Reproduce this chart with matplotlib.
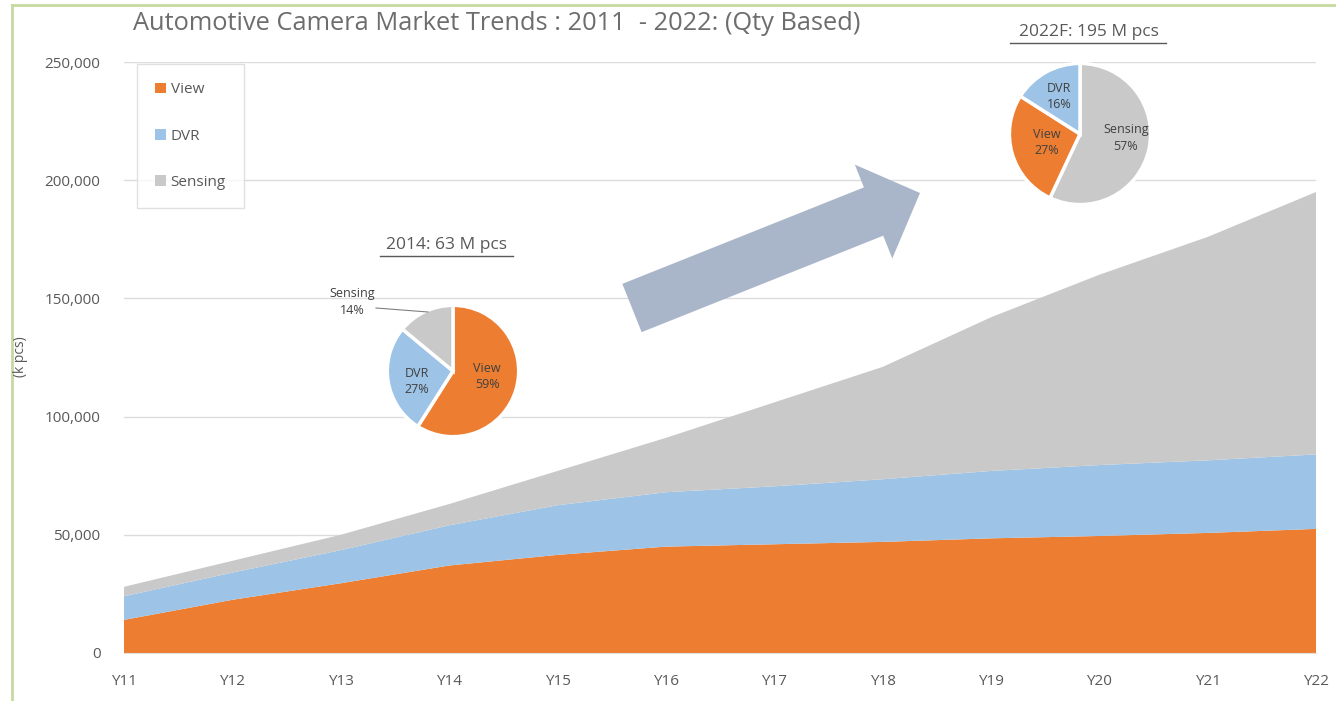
import numpy as np
import matplotlib.pyplot as plt
from matplotlib.patches import FancyArrow
from matplotlib.lines import Line2D

# Data (k pcs)
years = ['Y11', 'Y12', 'Y13', 'Y14', 'Y15', 'Y16', 'Y17', 'Y18', 'Y19', 'Y20', 'Y21', 'Y22']
view = [14000, 22500, 29500, 37000, 41500, 45000, 46000, 47000, 48500, 49500, 50800, 52500]
dvr = [10000, 11500, 14000, 17000, 21000, 23000, 24500, 26500, 28500, 30000, 30700, 31500]
sensing = [4000, 5000, 6500, 9000, 14500, 23000, 35500, 47500, 65000, 80500, 94500, 111000]

pie_labels = ['View', 'DVR', 'Sensing']
pie_2014 = [59, 27, 14]
pie_2022 = [27, 16, 57]

c_view = '#ED7D31'
c_dvr = '#9DC3E6'
c_sens = '#C9C9C9'
txt = '#595959'
W, H = 1336, 701

plt.rcParams['font.family'] = ['Open Sans', 'DejaVu Sans']

fig = plt.figure(figsize=(W / 100, H / 100), dpi=100)
ax = fig.add_axes([124 / W, 1 - 653 / H, (1316 - 124) / W, (653 - 62) / H])

x = np.arange(len(years))
ax.stackplot(x, view, dvr, sensing, colors=[c_view, c_dvr, c_sens],
             labels=['View', 'DVR', 'Sensing'], linewidth=0, zorder=2)
ax.set_xlim(0, len(years) - 1)
ax.set_ylim(0, 250000)
ax.set_yticks(np.arange(0, 250001, 50000))
ax.set_yticklabels([f'{v:,}' for v in range(0, 250001, 50000)])
ax.set_xticks(x)
ax.set_xticklabels(years)
ax.tick_params(axis='both', colors=txt, labelsize=11, length=0)
ax.tick_params(axis='y', pad=17)
ax.tick_params(axis='x', pad=15)
ax.grid(axis='y', color='#dcdcdc', linewidth=1, zorder=0)
for s in ['top', 'right', 'left']:
    ax.spines[s].set_visible(False)
ax.spines['bottom'].set_color('#e0e0e0')
fig.text(20 / W, 1 - 357 / H, '(k pcs)', rotation=90, color=txt, fontsize=10,
         ha='center', va='center')

leg = ax.legend(loc='upper left', bbox_to_anchor=(13 / 1192, 1 - 2 / 591), frameon=True,
                fontsize=11, handlelength=0.7, handleheight=0.7, labelspacing=2.05,
                borderpad=1.2, handletextpad=0.3, fancybox=False, labelcolor=txt,
                borderaxespad=0)
leg.get_frame().set_edgecolor('#d9d9d9')
leg.get_frame().set_linewidth(1)

fig.text(133 / W, 1 - 24 / H, 'Automotive Camera Market Trends : 2011  - 2022: (Qty Based)',
         fontsize=18.3, color='#6d6d6d', ha='left', va='center')

# Border
fig.add_artist(Line2D([12 / W, 12 / W], [0, 1 - 5 / H], color='#c6d9a0', linewidth=2))
fig.add_artist(Line2D([12 / W, 1], [1 - 5 / H, 1 - 5 / H], color='#c6d9a0', linewidth=2))

# Big arrow (inch units so the shape is not distorted)
fig.add_artist(FancyArrow(6.32, (H - 308) / 100, 2.88, 1.15, width=0.52,
                          head_width=1.01, head_length=0.5, length_includes_head=True,
                          transform=fig.dpi_scale_trans, color='#A9B5C8', linewidth=0))


def make_pie(cx, cy, r, vals, colors, start):
    pa = fig.add_axes([(cx - r) / W, 1 - (cy + r) / H, 2 * r / W, 2 * r / H])
    pa.pie(vals, colors=colors, startangle=start, counterclock=False,
           wedgeprops=dict(edgecolor='white', linewidth=2.5))
    pa.set_aspect('auto')
    pa.set_xlim(-1.02, 1.02)
    pa.set_ylim(-1.02, 1.02)
    pa.axis('off')
    return pa


make_pie(453, 371, 67, pie_2014, [c_view, c_dvr, c_sens], 90)
fig.text(446 / W, 1 - 245 / H, '2014: 63 M pcs', fontsize=12.5, color=txt, ha='center', va='center')
fig.add_artist(Line2D([380 / W, 513 / W], [1 - 256 / H, 1 - 256 / H], color=txt, linewidth=1))
fig.text(487 / W, 1 - 376 / H, f'{pie_labels[0]}\n{pie_2014[0]}%', fontsize=9, color='#404040',
         ha='center', va='center', linespacing=1.3)
fig.text(417 / W, 1 - 381 / H, f'{pie_labels[1]}\n{pie_2014[1]}%', fontsize=9, color='#404040',
         ha='center', va='center', linespacing=1.3)
fig.text(352 / W, 1 - 302 / H, f'{pie_labels[2]}\n{pie_2014[2]}%', fontsize=9, color='#404040',
         ha='center', va='center', linespacing=1.3)
fig.add_artist(Line2D([376 / W, 428 / W], [1 - 308 / H, 1 - 312 / H], color='#808080', linewidth=0.8))

make_pie(1080, 134, 72, [pie_2022[2], pie_2022[0], pie_2022[1]], [c_sens, c_view, c_dvr], 90)
fig.text(1089 / W, 1 - 32 / H, '2022F: 195 M pcs', fontsize=12.5, color=txt, ha='center', va='center')
fig.add_artist(Line2D([1010 / W, 1166 / W], [1 - 43 / H, 1 - 43 / H], color=txt, linewidth=1))
fig.text(1059 / W, 1 - 97 / H, f'{pie_labels[1]}\n{pie_2022[1]}%', fontsize=9, color='#404040',
         ha='center', va='center', linespacing=1.3)
fig.text(1047 / W, 1 - 143 / H, f'{pie_labels[0]}\n{pie_2022[0]}%', fontsize=9, color='#404040',
         ha='center', va='center', linespacing=1.3)
fig.text(1126 / W, 1 - 138 / H, f'{pie_labels[2]}\n{pie_2022[2]}%', fontsize=9, color='#404040',
         ha='center', va='center', linespacing=1.3)

fig.savefig('out.png', dpi=100)
